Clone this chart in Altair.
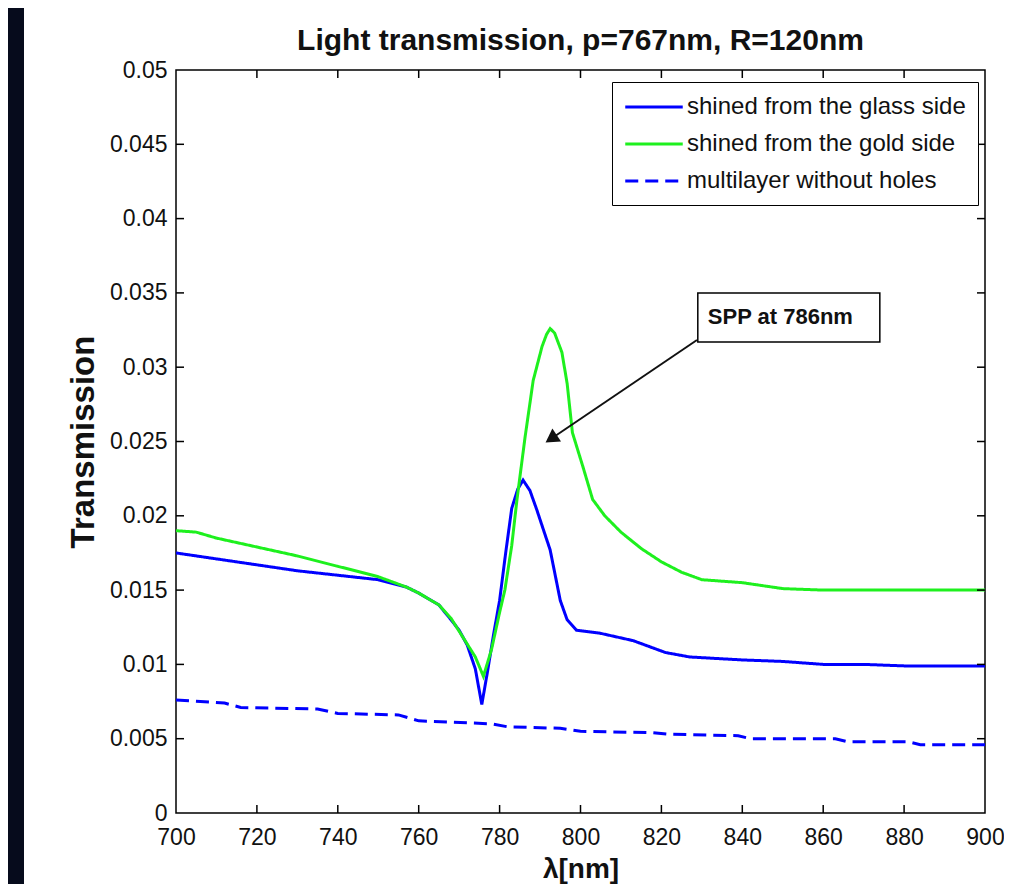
import altair as alt
import pandas as pd

# ---------------- data ----------------
NAMES = ["shined from the glass side", "shined from the gold side", "multilayer without holes"]

WL_GLASS = [700, 710, 720, 730, 740, 750, 757, 760, 765, 768, 770, 772, 774, 775.6,
            777, 778.5, 780, 781.5, 783, 784.5, 785.8, 787.5, 789.2, 792.5, 795, 796.7,
            799, 804.8, 813, 821, 827, 840, 850, 860, 870, 880, 890, 900]
T_GLASS = [0.0175, 0.0171, 0.0167, 0.0163, 0.0160, 0.0157, 0.0152, 0.0148, 0.0140, 0.0130,
           0.0123, 0.0113, 0.0097, 0.0073,
           0.0095, 0.0120, 0.0143, 0.0175, 0.0205, 0.0218, 0.0224, 0.0217, 0.0204, 0.0177,
           0.0143, 0.0130, 0.0123, 0.0121, 0.0116, 0.0108, 0.0105, 0.0103, 0.0102, 0.0100,
           0.0100, 0.0099, 0.0099, 0.0099]

WL_GOLD = [700, 705, 710, 720, 730, 740, 750, 757, 760, 765, 768, 771, 774, 776,
           778, 780, 781.3, 783, 784.3, 786.3, 788.3, 790.5, 791.6, 792.5, 793.6, 795.4, 796.7, 798,
           800.6, 803, 806, 810, 815, 820, 825, 830, 835, 840, 850, 860, 870, 880, 890, 900]
T_GOLD = [0.0190, 0.0189, 0.0185, 0.0179, 0.0173, 0.0166, 0.0159, 0.0152, 0.0148, 0.0140,
          0.0131, 0.0118, 0.0105, 0.0092,
          0.0110, 0.0135, 0.0150, 0.0180, 0.0211, 0.0253, 0.0291, 0.0314, 0.0322, 0.0326, 0.0323,
          0.0310, 0.0289, 0.0256, 0.0233, 0.0211, 0.0200, 0.0189, 0.0178, 0.0169, 0.0162, 0.0157,
          0.0156, 0.0155, 0.0151, 0.0150, 0.0150, 0.0150, 0.0150, 0.0150]

WL_FLAT = [700, 712, 716, 735, 740, 755, 760, 778, 782, 795, 800, 818, 822, 839, 842,
           863, 866, 881, 884, 900]
T_FLAT = [0.0076, 0.0074, 0.0071, 0.0070, 0.0067, 0.0066, 0.0062, 0.0060, 0.0058, 0.0057,
          0.0055, 0.0054, 0.0053, 0.0052, 0.0050, 0.0050, 0.0048, 0.0048, 0.0046, 0.0046]

X_TICKS = [700, 720, 740, 760, 780, 800, 820, 840, 860, 880, 900]
Y_TICKS = [0, 0.005, 0.01, 0.015, 0.02, 0.025, 0.03, 0.035, 0.04, 0.045, 0.05]
X_INNER = [720, 740, 760, 780, 800, 820, 840, 860, 880]
Y_INNER = [0.005, 0.01, 0.015, 0.02, 0.025, 0.03, 0.035, 0.04, 0.045]

TITLE = ["Light transmission, p=767nm, R=120nm"]
X_TITLE = "λ[nm]"
Y_TITLE = "Transmission"

NOTE_TEXT = ["SPP at 786nm"]
NOTE_BOX_WL = [829.0]
NOTE_BOX_WL2 = [874.0]
NOTE_BOX_T = [0.0350]
NOTE_BOX_T2 = [0.0317]
NOTE_TEXT_WL = [829.0]
NOTE_TEXT_T = [0.03335]
ARROW_WL = [828.8]
ARROW_T = [0.03183]
ARROW_TIP_WL = [793.2]
ARROW_TIP_T = [0.02527]

# ---------------- build tables ----------------
rows = []
for w, t in zip(WL_GLASS, T_GLASS):
    rows.append({"wl": w, "T": t, "series": NAMES[0]})
for w, t in zip(WL_GOLD, T_GOLD):
    rows.append({"wl": w, "T": t, "series": NAMES[1]})
for w, t in zip(WL_FLAT, T_FLAT):
    rows.append({"wl": w, "T": t, "series": NAMES[2]})
df = pd.DataFrame(rows)

FONT = "Liberation Sans"
W, H = 809, 743

xscale = alt.Scale(domain=[700, 900], nice=False, zero=False)
yscale = alt.Scale(domain=[0, 0.05], nice=False, zero=False)

x_axis = alt.Axis(values=X_TICKS, ticks=False, tickSize=0, domain=False, grid=False,
                  labelFlush=False, labelOverlap=False,
                  labelFont=FONT, labelFontSize=23, labelColor="#111", labelPadding=13,
                  titleFont=FONT, titleFontSize=28, titleFontWeight="bold", titleColor="#111",
                  titlePadding=6)
y_axis = alt.Axis(values=Y_TICKS, format="~g", ticks=False, tickSize=0, domain=False, grid=False,
                  labelFlush=False, labelOverlap=False,
                  labelFont=FONT, labelFontSize=23, labelColor="#111", labelPadding=9,
                  titleFont=FONT, titleFontSize=33, titleFontWeight="bold", titleColor="#111",
                  titlePadding=9)

legend = alt.Legend(title=None, orient="none", legendX=436, legendY=12, direction="vertical",
                    fillColor="white", strokeColor="black", padding=12,
                    symbolType="M-2.5,0L2.5,0", symbolSize=529, symbolStrokeWidth=3,
                    symbolOffset=17,
                    labelFont=FONT, labelFontSize=24, labelColor="#111", labelOffset=20,
                    labelLimit=500, rowPadding=12)

# dark strip at the left edge of the page
strip = alt.Chart(pd.DataFrame({"k": [0]})).mark_rect(color="#060b1c").encode(
    x=alt.value(-168), x2=alt.value(-152), y=alt.value(-62), y2=alt.value(H + 71)
)

title = alt.Chart(pd.DataFrame({"label": TITLE})).mark_text(
    align="center", baseline="alphabetic", font=FONT, fontSize=30, fontWeight="bold", color="#111"
).encode(x=alt.value(W / 2), y=alt.value(-20), text="label:N")

lines = alt.Chart(df).mark_line(strokeWidth=3, clip=True).encode(
    x=alt.X("wl:Q", scale=xscale, axis=x_axis, title=X_TITLE),
    y=alt.Y("T:Q", scale=yscale, axis=y_axis, title=Y_TITLE),
    color=alt.Color("series:N", scale=alt.Scale(domain=NAMES, range=["#0000ff", "#1ef01e", "#0000ff"]),
                    legend=legend),
    strokeDash=alt.StrokeDash("series:N", scale=alt.Scale(domain=NAMES, range=[[1, 0], [1, 0], [13, 7]]),
                              legend=legend),
)

xin = pd.DataFrame({"wl": X_INNER})
yin = pd.DataFrame({"T": Y_INNER})
tick_b = alt.Chart(xin).mark_rule(color="black", strokeWidth=1.5).encode(
    x=alt.X("wl:Q", title=X_TITLE), y=alt.value(H - 8), y2=alt.value(H))
tick_t = alt.Chart(xin).mark_rule(color="black", strokeWidth=1.5).encode(
    x=alt.X("wl:Q", title=X_TITLE), y=alt.value(0), y2=alt.value(8))
tick_l = alt.Chart(yin).mark_rule(color="black", strokeWidth=1.5).encode(
    y=alt.Y("T:Q", title=Y_TITLE), x=alt.value(0), x2=alt.value(8))
tick_r = alt.Chart(yin).mark_rule(color="black", strokeWidth=1.5).encode(
    y=alt.Y("T:Q", title=Y_TITLE), x=alt.value(W - 8), x2=alt.value(W))

note_df = pd.DataFrame({"wl": NOTE_BOX_WL, "wl2": NOTE_BOX_WL2, "T": NOTE_BOX_T, "T2": NOTE_BOX_T2})
note_box = alt.Chart(note_df).mark_rect(fill="white", stroke="black", strokeWidth=1.5).encode(
    x=alt.X("wl:Q", title=X_TITLE), x2="wl2:Q", y=alt.Y("T:Q", title=Y_TITLE), y2="T2:Q")

text_df = pd.DataFrame({"wl": NOTE_TEXT_WL, "T": NOTE_TEXT_T, "label": NOTE_TEXT})
note_text = alt.Chart(text_df).mark_text(align="left", baseline="middle", dx=10, font=FONT,
                                         fontSize=22, fontWeight="bold", color="#111").encode(
    x=alt.X("wl:Q", title=X_TITLE), y=alt.Y("T:Q", title=Y_TITLE), text="label:N")

arrow_df = pd.DataFrame({"wl": ARROW_WL, "T": ARROW_T, "wl2": ARROW_TIP_WL, "T2": ARROW_TIP_T})
arrow = alt.Chart(arrow_df).mark_rule(color="#111", strokeWidth=2).encode(
    x=alt.X("wl:Q", title=X_TITLE), y=alt.Y("T:Q", title=Y_TITLE), x2="wl2:Q", y2="T2:Q")

head_df = pd.DataFrame({"wl": ARROW_TIP_WL, "T": ARROW_TIP_T})
head = alt.Chart(head_df).mark_point(shape="triangle", filled=True, size=240, angle=236,
                                     color="#111", opacity=1).encode(
    x=alt.X("wl:Q", title=X_TITLE), y=alt.Y("T:Q", title=Y_TITLE))

chart = alt.layer(strip, title, lines, tick_b, tick_t, tick_l, tick_r, arrow, head,
                  note_box, note_text).properties(
    width=W, height=H,
    padding={"left": 168, "top": 62, "right": 19, "bottom": 71},
    autosize=alt.AutoSizeParams(type="none"),
    background="white",
).configure_view(stroke="black", strokeWidth=1.5, fill="white")

chart.save("out.html", embed_options={"renderer": "svg", "actions": False})
